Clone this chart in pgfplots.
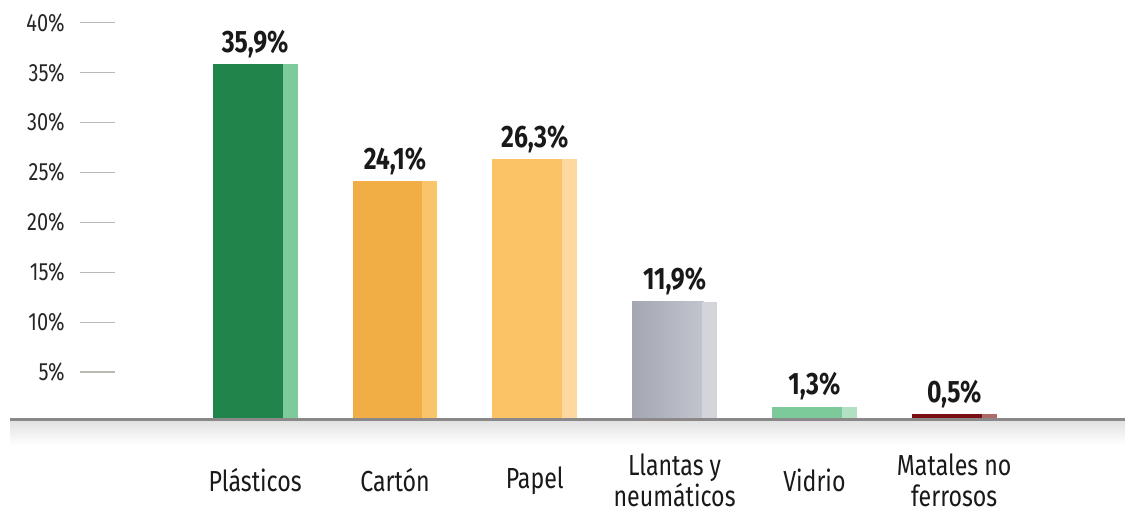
\documentclass[border=0pt]{standalone}
\usepackage{pgfplots}
\pgfplotsset{compat=1.18}
\usepackage{fontspec}
\setmainfont[FakeStretch=0.8]{Fira Sans}
\definecolor{plasD}{HTML}{21844A}
\definecolor{plasL}{HTML}{7DCB9B}
\definecolor{cartD}{HTML}{F0AE45}
\definecolor{cartL}{HTML}{FAC46A}
\definecolor{papD}{HTML}{FBC366}
\definecolor{papL}{HTML}{FDD8A0}
\definecolor{llaA}{HTML}{A3A7B2}
\definecolor{llaB}{HTML}{C3C5CE}
\definecolor{llaL}{HTML}{D4D5DB}
\definecolor{vidD}{HTML}{7CCA9A}
\definecolor{vidL}{HTML}{B2E0C3}
\definecolor{metD}{HTML}{781014}
\definecolor{metL}{HTML}{AE6B6B}
\definecolor{tickc}{HTML}{BCB8B4}
\definecolor{basec}{HTML}{8A8888}
\begin{document}
\begin{tikzpicture}
\begin{axis}[
  x=140pt, y=9.9pt,
  xmin=-1.2536, xmax=6.218,
  ymin=0, ymax=42.42,
  clip=false,
  axis x line*=bottom, axis y line*=left,
  axis line style={draw=none},
  xtick={0,1,2,3,4,5},
  xticklabels={Plásticos, Cartón, Papel, {Llantas y\\neumáticos}, Vidrio, {Matales no\\ferrosos}},
  xtick style={draw=none},
  xticklabel style={align=center, anchor=center, yshift=-26pt, inner sep=0pt,
    font=\fontsize{29}{31}\selectfont, text=black!90},
  ytick={4.78,9.83,14.88,19.93,24.98,30.03,35.08,40.13},
  yticklabels={5\%,10\%,15\%,20\%,25\%,30\%,35\%,40\%},
  ytick align=inside,
  major tick length=35pt,
  ytick style={color=tickc, line width=1.3pt},
  yticklabel style={anchor=east, inner sep=0pt, xshift=-15pt,
    font=\fontsize{25}{30}\selectfont, text=black!85},
  ybar,
]
% shadow under the baseline
\shade[top color=black!12, bottom color=white] (axis cs:-1.75,0) rectangle (axis cs:6.218,-2.6);
% Plásticos
\addplot[fill=plasD, draw=none, bar width=72pt, bar shift=-6.5pt] coordinates {(0,35.9)};
\addplot[fill=plasL, draw=none, bar width=15pt, bar shift=35pt] coordinates {(0,35.9)};
% Cartón
\addplot[fill=cartD, draw=none, bar width=72pt, bar shift=-6.5pt] coordinates {(1,24.1)};
\addplot[fill=cartL, draw=none, bar width=15pt, bar shift=35pt] coordinates {(1,24.1)};
% Papel
\addplot[fill=papD, draw=none, bar width=72pt, bar shift=-6.5pt] coordinates {(2,26.3)};
\addplot[fill=papL, draw=none, bar width=15pt, bar shift=35pt] coordinates {(2,26.3)};
% Llantas
\addplot[left color=llaA, right color=llaB, draw=none, bar width=72pt, bar shift=-6.5pt] coordinates {(3,11.9)};
\addplot[fill=llaL, draw=none, bar width=15pt, bar shift=35pt] coordinates {(3,11.9)};
% Vidrio
\addplot[fill=vidD, draw=none, bar width=72pt, bar shift=-6.5pt] coordinates {(4,1.3)};
\addplot[fill=vidL, draw=none, bar width=15pt, bar shift=35pt] coordinates {(4,1.3)};
% Metales
\addplot[fill=metD, draw=none, bar width=72pt, bar shift=-6.5pt] coordinates {(5,0.5)};
\addplot[fill=metL, draw=none, bar width=15pt, bar shift=35pt] coordinates {(5,0.5)};
% value labels
\addplot[draw=none, fill=none, bar width=1pt, bar shift=0pt,
  nodes near coords, point meta=explicit symbolic,
  every node near coord/.style={anchor=base, yshift=12pt, inner sep=0pt,
    font=\fontsize{31}{36}\selectfont\bfseries, text=black!90}]
  coordinates {(0,35.9)[35,9\%] (1,24.1)[24,1\%] (2,26.3)[26,3\%] (3,11.9)[11,9\%] (4,1.3)[1,3\%] (5,0.5)[0,5\%]};
\draw[basec, line width=3pt] (axis cs:-1.75,0) -- (axis cs:6.218,0);
% page extent
\path (axis cs:-1.825,42.42) rectangle (axis cs:6.218,-9.39);
\end{axis}
\end{tikzpicture}
\end{document}
